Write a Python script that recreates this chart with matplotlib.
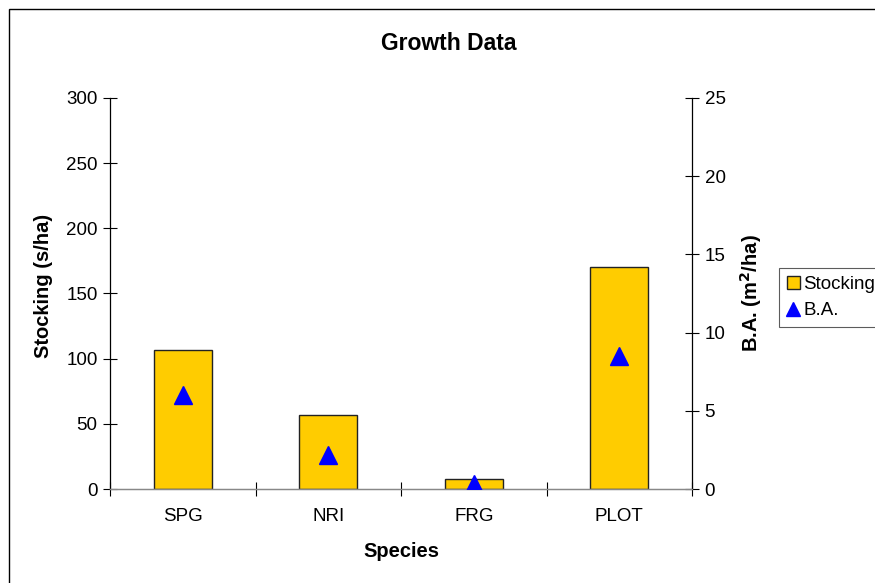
import matplotlib
matplotlib.use("Agg")
import matplotlib.pyplot as plt
from matplotlib.patches import Rectangle
import numpy as np

plt.rcParams['font.family'] = ['Liberation Sans', 'DejaVu Sans']

species = ["SPG", "NRI", "FRG", "PLOT"]
stocking = [107, 57, 8, 170]        # stems per hectare
basal_area = [6.0, 2.2, 0.3, 8.5]   # m^2/ha

fig = plt.figure(figsize=(8.75, 5.83), dpi=100)
W, H = 875, 583

# outer chart frame (runs off the right/bottom edges)
fig.patches.append(Rectangle((9 / W, -0.05), 1.1, 1 - 9 / H + 0.05,
                             transform=fig.transFigure, fill=False,
                             edgecolor="black", linewidth=1.0))

left, right, top, bottom = 110, 692, 98, 489
ax = fig.add_axes([left / W, 1 - bottom / H, (right - left) / W, (bottom - top) / H])
ax2 = ax.twinx()

x = np.arange(len(species))
ax.bar(x, stocking, width=0.4, color="#FFCC00", edgecolor="#222222",
       linewidth=1.0, label="Stocking", zorder=2)
ax.set_xlim(-0.5, len(species) - 0.5)
ax.set_ylim(0, 300)
ax.set_yticks(np.arange(0, 301, 50))

ax2.plot(x, basal_area, linestyle="none", marker="^", markersize=13,
         color="#0000FF", label="B.A.", zorder=3)
ax2.set_ylim(0, 25)
ax2.set_yticks(np.arange(0, 26, 5))
ax2.set_zorder(ax.get_zorder() + 1)
ax2.patch.set_visible(False)

TICK_FS = 13.5
LABEL_FS = 14.5

# category labels centred, ticks between categories
ax.set_xticks(x)
ax.set_xticklabels(species, fontsize=TICK_FS)
ax.tick_params(axis="x", length=0, pad=14)
ax.set_xticks(np.arange(-0.5, len(species), 1.0), minor=True)
ax.tick_params(axis="x", which="minor", direction="inout", length=10, width=0.8)

ax.tick_params(axis="y", direction="inout", length=10, width=0.8, labelsize=TICK_FS, pad=4)
ax2.tick_params(axis="y", direction="inout", length=10, width=0.8, labelsize=TICK_FS, pad=4)

for a in (ax, ax2):
    a.spines["top"].set_visible(False)
    for s in a.spines.values():
        s.set_linewidth(0.9)
ax.spines["right"].set_visible(False)
ax2.spines["left"].set_visible(False)
ax2.spines["bottom"].set_color("#888888")
ax.spines["bottom"].set_color("#888888")

ax.set_ylabel("Stocking (s/ha)", fontsize=LABEL_FS, fontweight="bold")
ax.yaxis.set_label_coords(-0.098, 0.52)
ax2.set_ylabel("B.A. (m$^\\mathbf{2}$/ha)", fontsize=LABEL_FS, fontweight="bold", labelpad=9)
ax.set_xlabel("Species", fontsize=LABEL_FS, fontweight="bold", labelpad=12)

fig.text(449 / W, 1 - 43 / H, "Growth Data", ha="center", va="center",
         fontsize=16.5, fontweight="bold")

h1, l1 = ax.get_legend_handles_labels()
h2, l2 = ax2.get_legend_handles_labels()
leg = fig.legend(h1 + h2, l1 + l2, loc="upper left",
                 bbox_to_anchor=(779 / W, 1 - 268 / H), fontsize=TICK_FS,
                 frameon=True, fancybox=False, edgecolor="#333333",
                 handlelength=0.7, handleheight=0.7, handletextpad=0.2,
                 borderpad=0.4, borderaxespad=0, labelspacing=0.5, markerscale=0.8)
leg.get_frame().set_linewidth(0.8)

fig.savefig("out.png", dpi=100)
